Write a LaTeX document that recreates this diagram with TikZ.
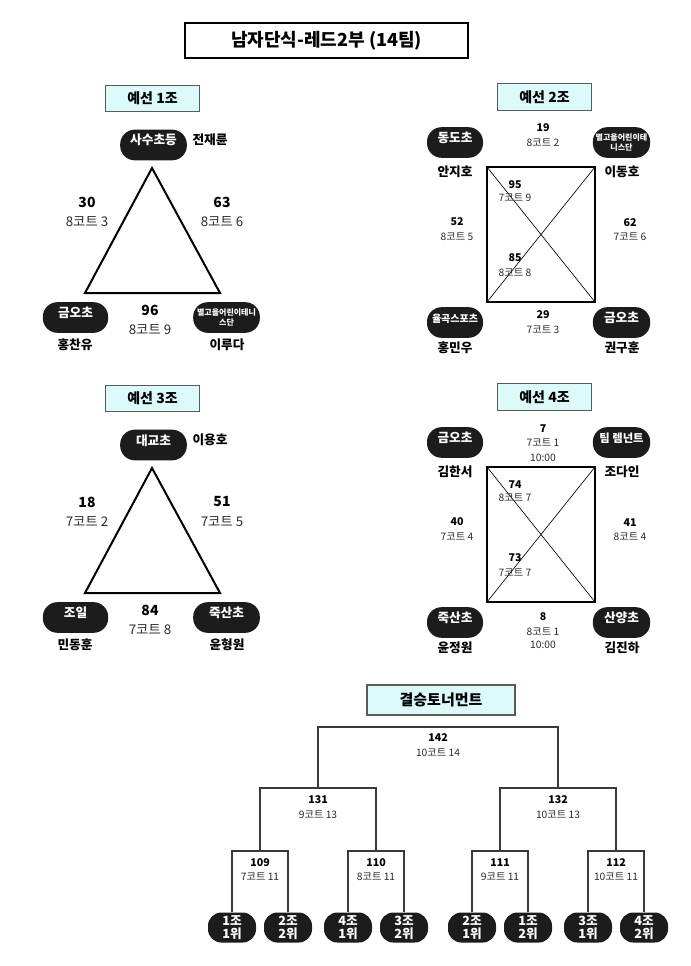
\documentclass[tikz,border=0pt]{standalone}
\usepackage{fontspec}
\setmainfont{Noto Sans CJK KR}
\usepackage{xcolor}
\definecolor{pillblack}{HTML}{1C1C1C}
\definecolor{grpfill}{HTML}{DDFAFA}
\definecolor{grpline}{HTML}{5A5A5A}
\definecolor{courtgray}{HTML}{2A2A2A}
\definecolor{bracketgray}{HTML}{3A3A3A}

\begin{document}
\begin{tikzpicture}[x=0.75pt, y=-0.75pt,
  pill/.style={fill=pillblack, text=white, rounded corners=11pt,
    minimum height=23pt, inner sep=0pt},
  grppill/.style={pill, font=\bfseries\fontsize{9.5}{10}\selectfont,
    text height=0pt, text depth=0pt},
  tinypill/.style={pill, align=center, font=\bfseries\fontsize{6}{7}\selectfont},
  seedpill/.style={pill, minimum width=36pt, minimum height=22.5pt,
    rounded corners=10pt, align=center, font=\bfseries\fontsize{9.5}{10}\selectfont},
  grpbox/.style={draw=grpline, line width=0.9pt, fill=grpfill, inner sep=0pt,
    minimum width=71pt, minimum height=20pt, font=\bfseries\fontsize{10.5}{12}\selectfont},
  player/.style={inner sep=0pt, font=\bfseries\fontsize{9.5}{11}\selectfont},
  bignum/.style={inner sep=0pt, font=\bfseries\fontsize{10.5}{12}\selectfont},
  bigcourt/.style={inner sep=0pt, text=courtgray, font=\fontsize{10}{12}\selectfont},
  smallnum/.style={inner sep=0pt, font=\bfseries\fontsize{8}{9}\selectfont},
  smallcourt/.style={inner sep=0pt, text=courtgray, font=\fontsize{7.7}{9}\selectfont},
  tri/.style={line width=1.5pt, line join=miter},
  court/.style={line width=1.5pt},
  cross/.style={line width=0.5pt},
  bracket/.style={draw=bracketgray, line width=0.9pt}]

\useasboundingbox (0,0) rectangle (691,966);

% --- Title ---
\node[draw=black, line width=1.4pt, fill=white, minimum width=212pt, minimum height=26pt,
  inner sep=0pt, font=\bfseries\fontsize{13.5}{15}\selectfont] (title) at (326.5,40.5)
  {남자단식-레드2부 (14팀)};

% --- Group labels ---
\node[grpbox] (grp1) at (152.5,98.5) {예선 1조};
\node[grpbox] (grp2) at (544.5,97) {예선 2조};
\node[grpbox] (grp3) at (152.5,398.5) {예선 3조};
\node[grpbox] (grp4) at (544.5,397) {예선 4조};
\node[grpbox, minimum width=111pt, minimum height=22.5pt,
  font=\bfseries\fontsize{11.25}{13}\selectfont] (final) at (441,700) {결승토너먼트};

% ===== Group 1 (triangle) =====
\coordinate (t1a) at (152,168);
\coordinate (t1b) at (85,293);
\coordinate (t1c) at (220,293);
\draw[tri] (t1a) -- (t1b) -- (t1c) -- cycle;

\node[grppill, minimum width=50pt] (g1top) at (153.5,145) {사수초등};
\node[grppill, minimum width=49pt] (g1left) at (75.5,317.5) {금오초};
\node[tinypill, minimum width=50pt] (g1right) at (226.5,317.5) {별고을어린이테니\\스단};
\node[player] (p1top) at (210,140) {전재륜};
\node[player] (p1left) at (75,345) {홍찬유};
\node[player] (p1right) at (227,345) {이루다};

\node[bignum] (n30) at (87,202) {30};
\node[bigcourt] (c30) at (87,222) {8코트 3};
\node[bignum] (n63) at (222,202) {63};
\node[bigcourt] (c63) at (222,222) {8코트 6};
\node[bignum] (n96) at (150,310) {96};
\node[bigcourt] (c96) at (150,330) {8코트 9};

% ===== Group 3 (triangle) =====
\coordinate (t3a) at (152,468);
\coordinate (t3b) at (85,593);
\coordinate (t3c) at (220,593);
\draw[tri] (t3a) -- (t3b) -- (t3c) -- cycle;

\node[grppill, minimum width=50pt] (g3top) at (153.5,445) {대교초};
\node[grppill, minimum width=49pt] (g3left) at (75.5,617.5) {조일};
\node[grppill, minimum width=50pt] (g3right) at (226.5,617.5) {죽산초};
\node[player] (p3top) at (210,440) {이용호};
\node[player] (p3left) at (75,645) {민동훈};
\node[player] (p3right) at (227,645) {윤형원};

\node[bignum] (n18) at (87,502) {18};
\node[bigcourt] (c18) at (87,522) {7코트 2};
\node[bignum] (n51) at (222,502) {51};
\node[bigcourt] (c51) at (222,522) {7코트 5};
\node[bignum] (n84) at (150,610) {84};
\node[bigcourt] (c84) at (150,630) {7코트 8};

% ===== Group 2 (square) =====
\coordinate (r2a) at (487,167);
\coordinate (r2b) at (595,167);
\coordinate (r2c) at (595,302);
\coordinate (r2d) at (487,302);
\draw[cross] (r2a) -- (r2c);
\draw[cross] (r2b) -- (r2d);
\draw[court] (r2a) rectangle (r2c);

\node[grppill, minimum width=42pt] (g2tl) at (455,142.5) {동도초};
\node[tinypill, minimum width=43pt] (g2tr) at (621.5,142.5) {별고을어린이테\\니스단};
\node[grppill, minimum width=42pt, font=\bfseries\fontsize{7.5}{9}\selectfont] (g2bl) at (455,322.5) {율곡스포츠};
\node[grppill, minimum width=43pt] (g2br) at (621.5,322.5) {금오초};
\node[player] (p2tl) at (455,172) {안지호};
\node[player] (p2tr) at (622,172) {이동호};
\node[player] (p2bl) at (455,348) {홍민우};
\node[player] (p2br) at (622,348) {권구훈};

\node[smallnum] (n19) at (543,128) {19};
\node[smallcourt] (c19) at (543,143) {8코트 2};
\node[smallnum] (n95) at (515,185) {95};
\node[smallcourt] (c95) at (515,198) {7코트 9};
\node[smallnum] (n52) at (457,222) {52};
\node[smallcourt] (c52) at (457,237) {8코트 5};
\node[smallnum] (n62) at (630,223) {62};
\node[smallcourt] (c62) at (630,237) {7코트 6};
\node[smallnum] (n85) at (515,258) {85};
\node[smallcourt] (c85) at (515,273) {8코트 8};
\node[smallnum] (n29) at (543,315) {29};
\node[smallcourt] (c29) at (543,330) {7코트 3};

% ===== Group 4 (square) =====
\coordinate (r4a) at (487,467);
\coordinate (r4b) at (595,467);
\coordinate (r4c) at (595,602);
\coordinate (r4d) at (487,602);
\draw[cross] (r4a) -- (r4c);
\draw[cross] (r4b) -- (r4d);
\draw[court] (r4a) rectangle (r4c);

\node[grppill, minimum width=42pt] (g4tl) at (455,442.5) {금오초};
\node[grppill, minimum width=43pt, font=\bfseries\fontsize{8.5}{9}\selectfont] (g4tr) at (621.5,442.5) {팀 렘넌트};
\node[grppill, minimum width=42pt] (g4bl) at (455,622.5) {죽산초};
\node[grppill, minimum width=43pt] (g4br) at (621.5,622.5) {산양초};
\node[player] (p4tl) at (455,472) {김한서};
\node[player] (p4tr) at (622,472) {조다인};
\node[player] (p4bl) at (455,648) {윤정원};
\node[player] (p4br) at (622,648) {김진하};

\node[smallnum] (n7) at (543,429) {7};
\node[smallcourt] (c7) at (543,443) {7코트 1};
\node[smallcourt] (t7) at (543,458) {10:00};
\node[smallnum] (n74) at (515,485) {74};
\node[smallcourt] (c74) at (515,498) {8코트 7};
\node[smallnum] (n40) at (457,522) {40};
\node[smallcourt] (c40) at (457,537) {7코트 4};
\node[smallnum] (n41) at (630,523) {41};
\node[smallcourt] (c41) at (630,537) {8코트 4};
\node[smallnum] (n73) at (515,558) {73};
\node[smallcourt] (c73) at (515,573) {7코트 7};
\node[smallnum] (n8) at (543,617) {8};
\node[smallcourt] (c8) at (543,632) {8코트 1};
\node[smallcourt] (t8) at (543,645) {10:00};

% ===== Final bracket =====
\node[seedpill] (s1) at (232,927.5) {1조\\1위};
\node[seedpill] (s2) at (288,927.5) {2조\\2위};
\node[seedpill] (s3) at (348,927.5) {4조\\1위};
\node[seedpill] (s4) at (404,927.5) {3조\\2위};
\node[seedpill] (s5) at (472,927.5) {2조\\1위};
\node[seedpill] (s6) at (528,927.5) {1조\\2위};
\node[seedpill] (s7) at (588,927.5) {3조\\1위};
\node[seedpill] (s8) at (644,927.5) {4조\\2위};

\coordinate (m109) at (260,851);
\coordinate (m110) at (376,851);
\coordinate (m111) at (500,851);
\coordinate (m112) at (616,851);
\coordinate (m131) at (318,788);
\coordinate (m132) at (558,788);
\coordinate (m142) at (438,727);

\draw[bracket] (s1.north) |- (m109) -| (s2.north);
\draw[bracket] (s3.north) |- (m110) -| (s4.north);
\draw[bracket] (s5.north) |- (m111) -| (s6.north);
\draw[bracket] (s7.north) |- (m112) -| (s8.north);
\draw[bracket] (m109) |- (m131) -| (m110);
\draw[bracket] (m111) |- (m132) -| (m112);
\draw[bracket] (m131) |- (m142) -| (m132);

\node[smallnum] (n109) at (260,863) {109};
\node[smallcourt] (c109) at (260,877) {7코트 11};
\node[smallnum] (n110) at (376,863) {110};
\node[smallcourt] (c110) at (376,877) {8코트 11};
\node[smallnum] (n111) at (500,863) {111};
\node[smallcourt] (c111) at (500,877) {9코트 11};
\node[smallnum] (n112) at (616,863) {112};
\node[smallcourt] (c112) at (616,877) {10코트 11};
\node[smallnum] (n131) at (318,800) {131};
\node[smallcourt] (c131) at (318,815) {9코트 13};
\node[smallnum] (n132) at (558,800) {132};
\node[smallcourt] (c132) at (558,815) {10코트 13};
\node[smallnum] (n142) at (438,738) {142};
\node[smallcourt] (c142) at (438,753) {10코트 14};

\end{tikzpicture}
\end{document}
